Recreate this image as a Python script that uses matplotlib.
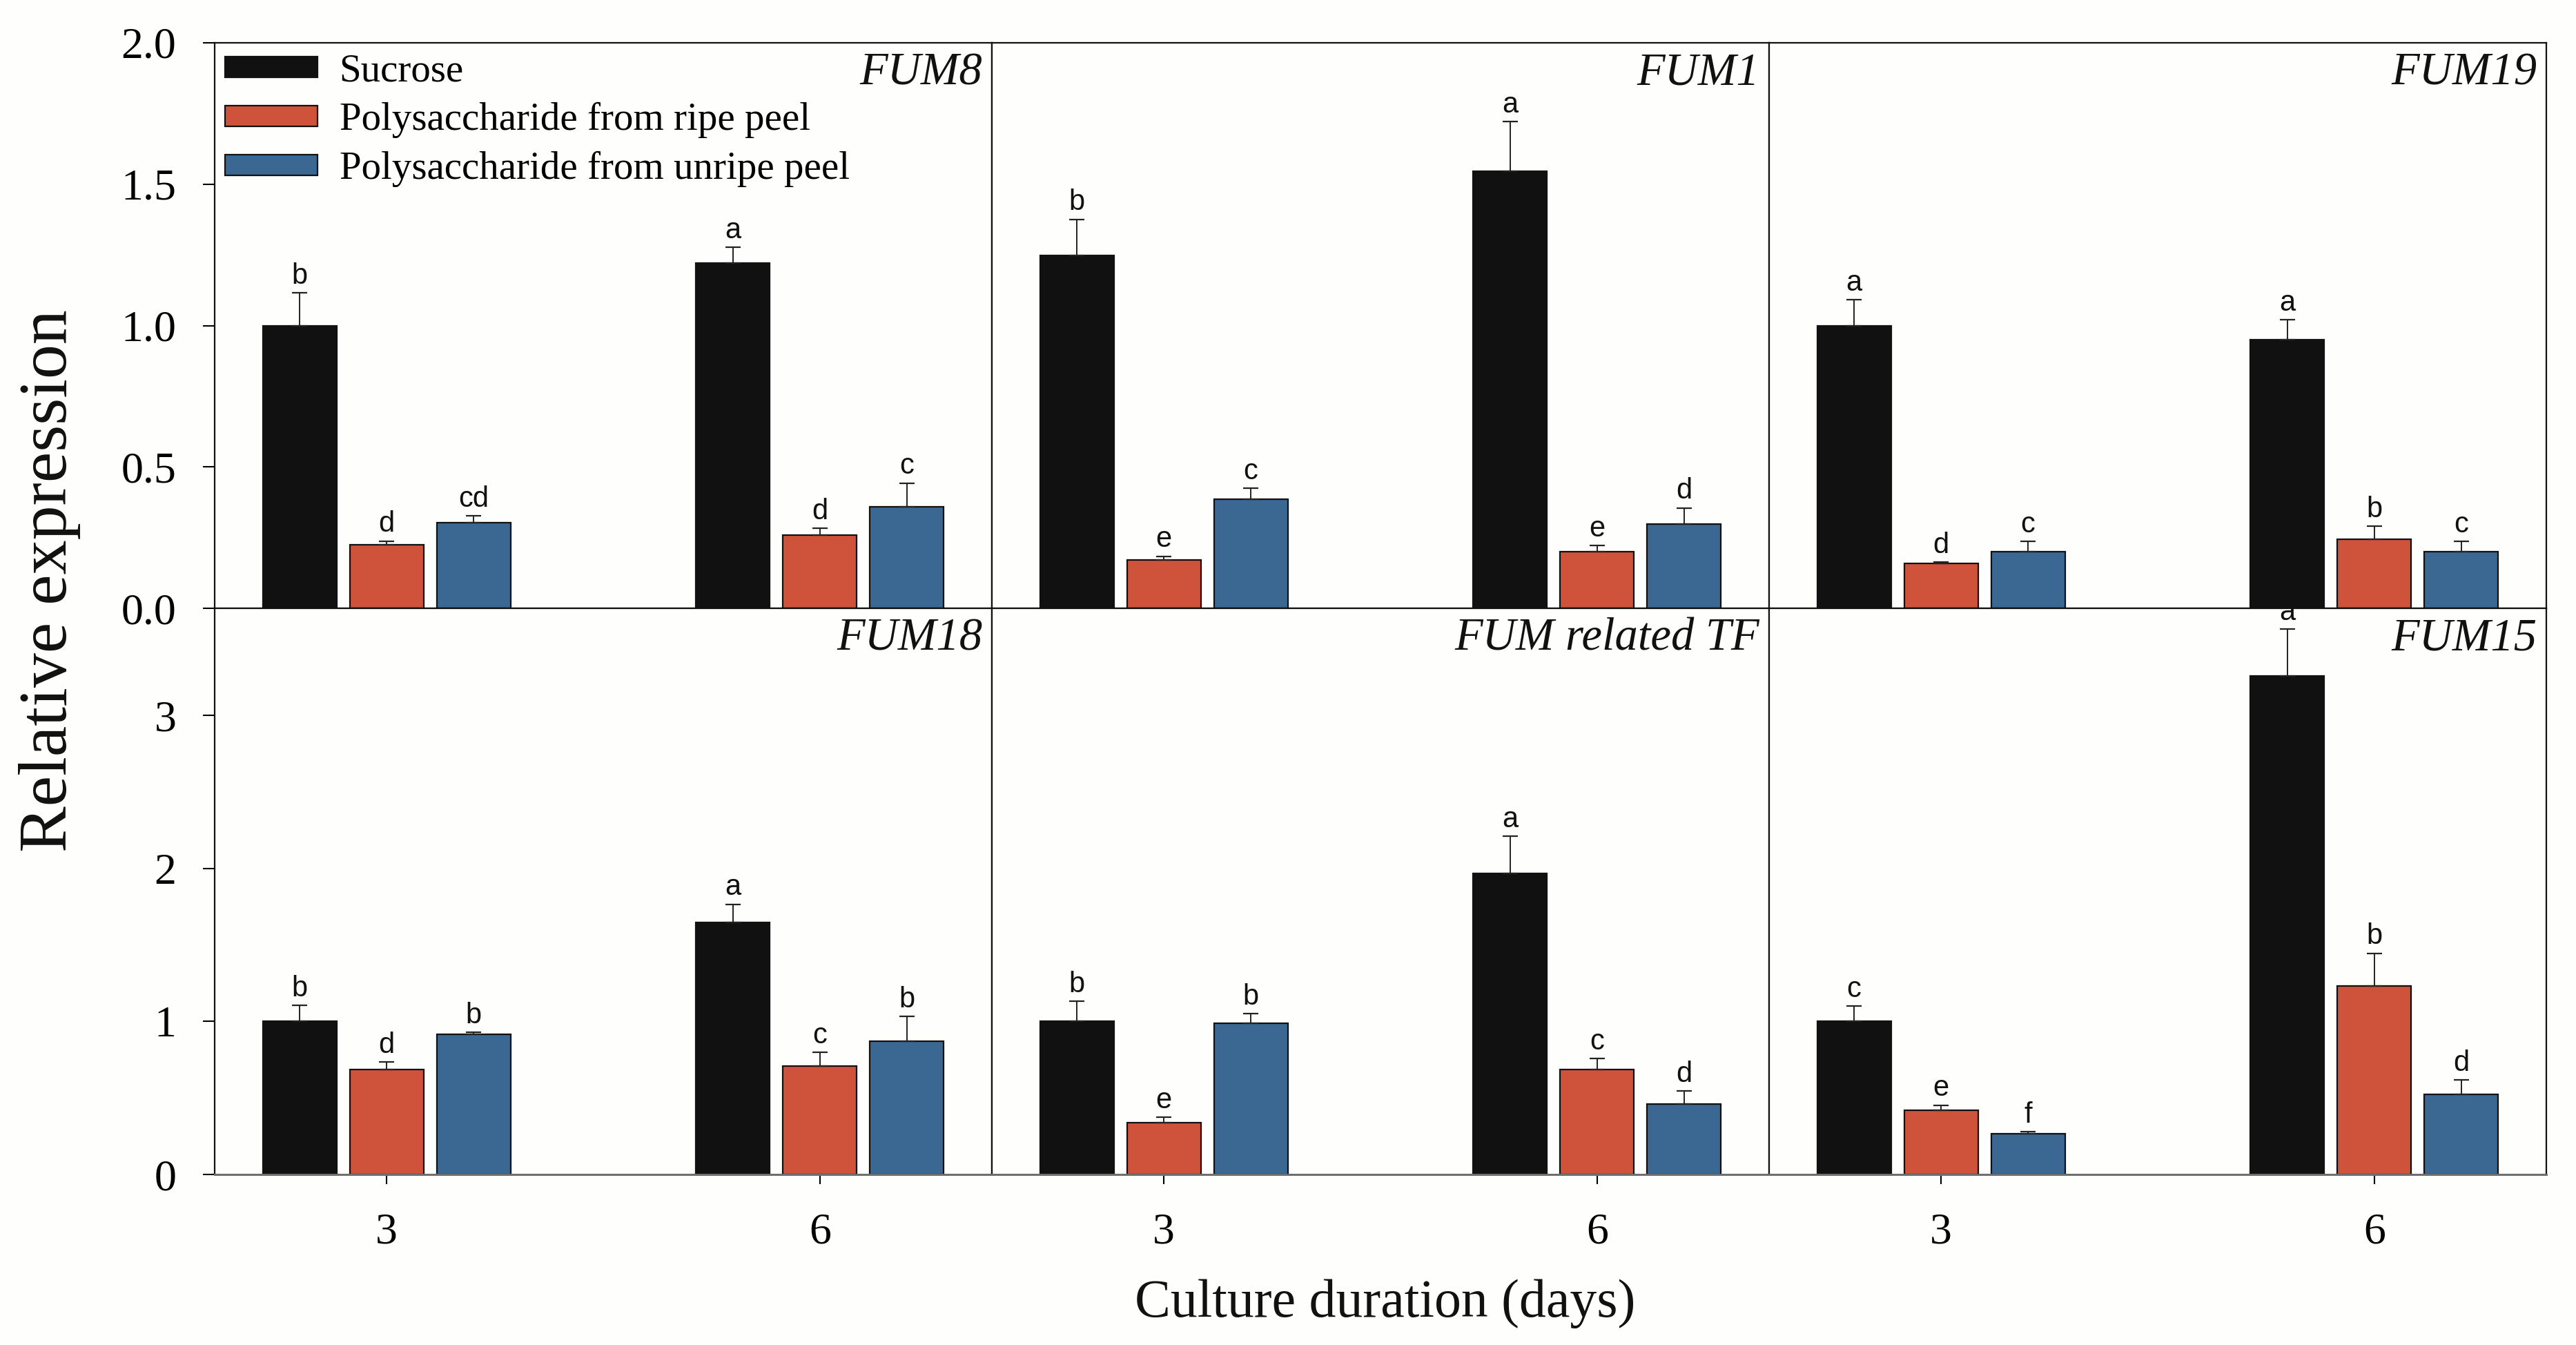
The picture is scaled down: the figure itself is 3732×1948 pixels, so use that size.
import matplotlib
matplotlib.use("Agg")
import matplotlib.pyplot as plt
import numpy as np

# ---------------- data ----------------
days = [3, 6]
day_labels = ["3", "6"]
series_names = ["Sucrose", "Polysaccharide from ripe peel", "Polysaccharide from unripe peel"]
genes = ["FUM8", "FUM1", "FUM19", "FUM18", "FUM related TF", "FUM15"]

sucrose_mean = {"FUM8": [1.00, 1.22], "FUM1": [1.248, 1.546], "FUM19": [1.00, 0.951],
                "FUM18": [1.00, 1.649], "FUM related TF": [1.00, 1.968], "FUM15": [1.00, 3.26]}
sucrose_err = {"FUM8": [0.116, 0.056], "FUM1": [0.128, 0.175], "FUM19": [0.091, 0.069],
               "FUM18": [0.105, 0.117], "FUM related TF": [0.133, 0.244], "FUM15": [0.102, 0.306]}
ripe_mean = {"FUM8": [0.225, 0.258], "FUM1": [0.172, 0.200], "FUM19": [0.158, 0.245],
             "FUM18": [0.687, 0.709], "FUM related TF": [0.339, 0.687], "FUM15": [0.421, 1.234]}
ripe_err = {"FUM8": [0.013, 0.025], "FUM1": [0.012, 0.022], "FUM19": [0.005, 0.045],
            "FUM18": [0.047, 0.091], "FUM related TF": [0.034, 0.072], "FUM15": [0.032, 0.212]}
unripe_mean = {"FUM8": [0.303, 0.358], "FUM1": [0.386, 0.299], "FUM19": [0.200, 0.200],
               "FUM18": [0.918, 0.870], "FUM related TF": [0.990, 0.462], "FUM15": [0.266, 0.525]}
unripe_err = {"FUM8": [0.024, 0.085], "FUM1": [0.039, 0.056], "FUM19": [0.036, 0.036],
              "FUM18": [0.012, 0.162], "FUM related TF": [0.060, 0.082], "FUM15": [0.012, 0.092]}
sucrose_letters = {"FUM8": ["b", "a"], "FUM1": ["b", "a"], "FUM19": ["a", "a"],
                   "FUM18": ["b", "a"], "FUM related TF": ["b", "a"], "FUM15": ["c", "a"]}
ripe_letters = {"FUM8": ["d", "d"], "FUM1": ["e", "e"], "FUM19": ["d", "b"],
                "FUM18": ["d", "c"], "FUM related TF": ["e", "c"], "FUM15": ["e", "b"]}
unripe_letters = {"FUM8": ["cd", "c"], "FUM1": ["c", "d"], "FUM19": ["c", "c"],
                  "FUM18": ["b", "b"], "FUM related TF": ["b", "d"], "FUM15": ["f", "d"]}

top_yticks = [0.0, 0.5, 1.0, 1.5, 2.0]
bottom_yticks = [0, 1, 2, 3]

colors = ["#111111", "#CF533B", "#3A6893"]

# ---------------- figure ----------------
W, H, DPI = 3732, 1948, 100
fig = plt.figure(figsize=(W / DPI, H / DPI), dpi=DPI, facecolor="#fefefd")

SERIF = ["Liberation Serif", "DejaVu Serif"]
SANS = ["Liberation Sans", "DejaVu Sans"]

left_px = 311
panel_w = 1126
rows_px = [(62, 881), (881, 1701)]

bar_w = 0.511
offset = 0.602

all_means = [sucrose_mean, ripe_mean, unripe_mean]
all_errs = [sucrose_err, ripe_err, unripe_err]
all_letters = [sucrose_letters, ripe_letters, unripe_letters]

axes = []
for gi, gene in enumerate(genes):
    r, c = divmod(gi, 3)
    top, bot = rows_px[r]
    ax = fig.add_axes([(left_px + c * panel_w) / W, 1 - bot / H, panel_w / W, (bot - top) / H])
    ax.set_facecolor("#fefefd")
    axes.append(ax)
    x = np.array(days, dtype=float)
    for si in range(3):
        xs = x + (si - 1) * offset
        m = all_means[si][gene]
        e = all_errs[si][gene]
        ax.bar(xs, m, width=bar_w, color=colors[si], edgecolor="#111111", linewidth=1.6,
               label=series_names[si], zorder=2)
        ax.errorbar(xs, m, yerr=[np.zeros(len(e)), e], fmt="none", ecolor="#222222",
                    elinewidth=1.4, capsize=8, capthick=1.6, zorder=3)
        for xi, mi, ei, lt in zip(xs, m, e, all_letters[si][gene]):
            ax.annotate(lt, xy=(xi, mi + ei), xytext=(0, 3), textcoords="offset points",
                        ha="center", va="bottom", fontsize=30, family=SANS,
                        color="#111111", annotation_clip=False, zorder=4)
    ax.set_xlim(1.81, 7.19)
    if r == 0:
        ax.set_ylim(0, 2.0)
        ax.set_xticks([])
    else:
        ax.set_ylim(0, 3.7)
        ax.set_xticks(days)
        ax.set_xticklabels(day_labels, fontsize=46, family=SERIF)
        ax.tick_params(axis="x", direction="out", length=10, width=1.5, pad=30)
    if c == 0:
        if r == 0:
            ax.set_yticks(top_yticks)
            ax.set_yticklabels([f"{v:.1f}" for v in top_yticks], fontsize=46, family=SERIF)
        else:
            ax.set_yticks(bottom_yticks)
            ax.set_yticklabels([str(v) for v in bottom_yticks], fontsize=46, family=SERIF)
        ax.tick_params(axis="y", direction="out", length=12, width=1.5, pad=28)
    else:
        ax.set_yticks([])
    for sp in ax.spines.values():
        sp.set_linewidth(1.6)
        sp.set_color("#111111")
    if r == 1:
        ax.spines["bottom"].set_color("#6e6e6e")
        ax.spines["bottom"].set_linewidth(2.2)
    ax.annotate(gene, xy=(1, 1), xycoords="axes fraction", xytext=(-10, -10),
                textcoords="offset points", ha="right", va="top", fontsize=48,
                family=SERIF, style="italic", color="#111111")

leg = axes[0].legend(loc="upper left", bbox_to_anchor=(0.0, 1.0), frameon=False,
                     prop={"family": SERIF, "size": 41}, handlelength=2.35,
                     handleheight=0.45, handletextpad=0.55, labelspacing=0.33,
                     borderaxespad=0.12, borderpad=0.15)

fig.text(72 / W, 0.568, "Relative expression", rotation=90, ha="center", va="center",
         fontsize=72, family=SERIF, color="#111111")
fig.text(2007 / W, 1 - 1888 / H, "Culture duration (days)", ha="center", va="center",
         fontsize=56, family=SERIF, color="#111111")

fig.savefig("out.png", dpi=DPI, facecolor=fig.get_facecolor())
